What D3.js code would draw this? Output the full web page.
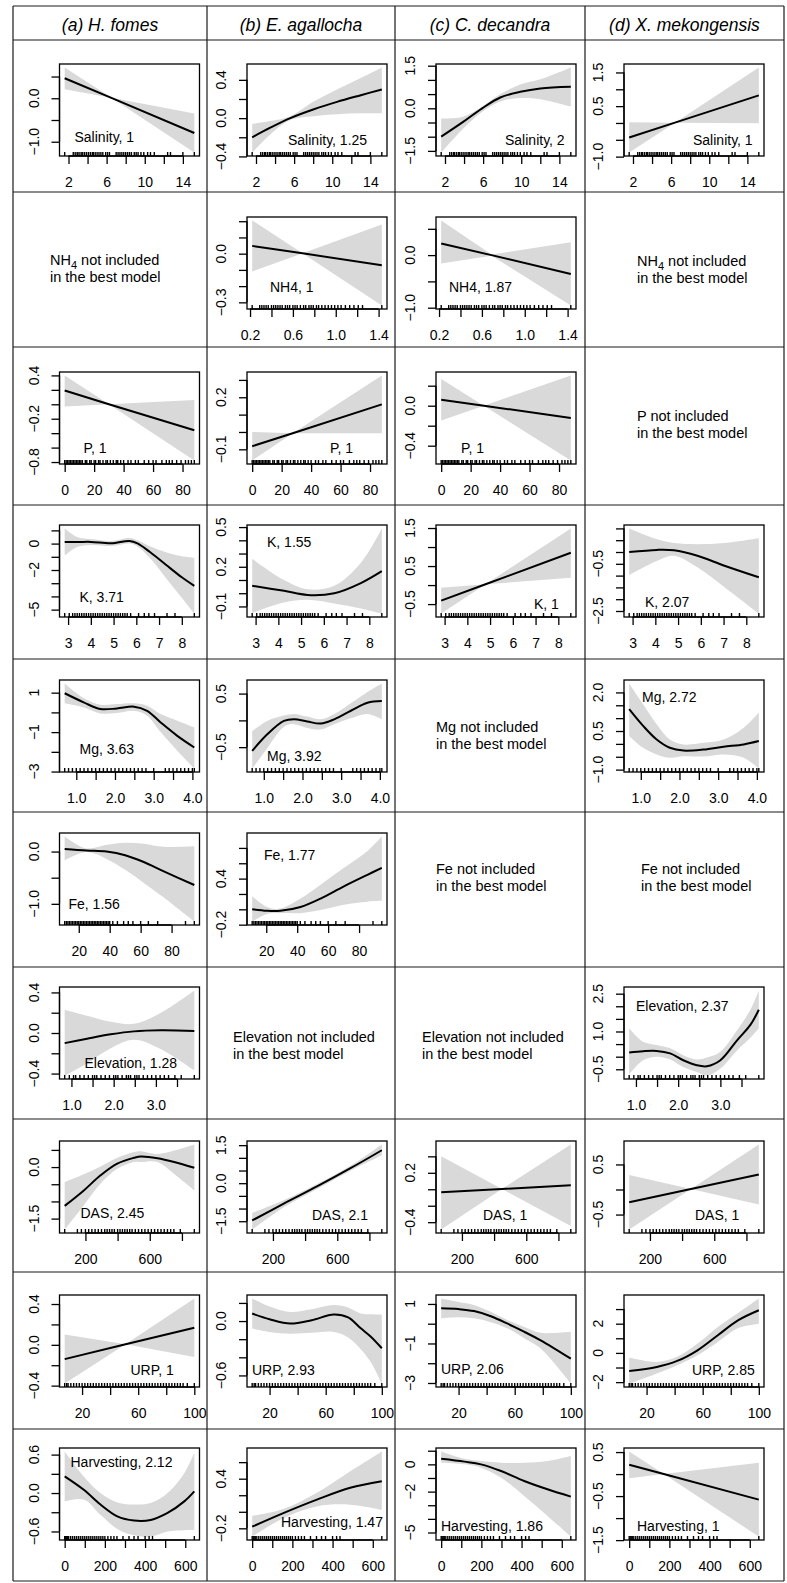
<!DOCTYPE html>
<html>
<head>
<meta charset="utf-8">
<script src="https://cdn.jsdelivr.net/npm/d3@7"></script>
<style>
  body { margin: 0; background: #fff; }
  svg text { font-family: "Liberation Sans", Arial, Helvetica, sans-serif; fill: #000; }
</style>
</head>
<body>
<svg id="chart" width="787" height="1583"></svg>
<script>
// column headers / row variables
const species = ["(a) H. fomes", "(b) E. agallocha", "(c) C. decandra", "(d) X. mekongensis"];
const variables = ["Salinity", "NH4", "P", "K", "Mg", "Fe", "Elevation", "DAS", "URP", "Harvesting"];

// ---- Salinity ----
const salRug = [1.6, 2.5, 2.7, 2.9, 3.0, 3.2, 3.4, 3.5, 3.7, 3.9, 4.1, 4.3, 4.5, 4.6, 4.8, 5.0, 5.2, 5.4, 5.6, 5.9, 6.1, 6.3, 7.0, 7.2, 7.4, 7.6, 7.8, 8.0, 8.2, 8.4, 8.6, 8.9, 9.1, 9.3, 9.6, 9.9, 10.3, 10.6, 11.0, 12.4, 12.7, 14.0, 15.2];
const salTicks = [2, 4, 6, 8, 10, 12, 14];
const salTickLabels = [2, 6, 10, 14];
const salA_x = [1.6, 6.5, 15.2], salA_fit = [0.46, 0.01, -0.80], salA_hi = [0.71, 0.01, -0.35], salA_lo = [0.21, 0.01, -1.25];
const salA_yt = [-1, -0.5, 0, 0.5], salA_yl = [-1, 0];
const salB_x = [1.6, 3.5, 5.6, 8, 10.5, 13, 15.2], salB_fit = [-0.20, -0.10, 0.00, 0.09, 0.17, 0.24, 0.30];
const salB_hi = [-0.06, -0.03, 0.02, 0.17, 0.30, 0.42, 0.53], salB_lo = [-0.36, -0.17, -0.02, 0.02, 0.04, 0.05, 0.05];
const salB_yt = [-0.4, -0.2, 0, 0.2, 0.4], salB_yl = [-0.4, 0, 0.4];
const salC_x = [1.6, 3.9, 5.9, 7.8, 9.9, 12, 15.2], salC_fit = [-1.0, -0.48, 0.0, 0.38, 0.58, 0.70, 0.76];
const salC_hi = [-0.36, -0.30, 0.06, 0.50, 0.84, 1.02, 1.44], salC_lo = [-1.56, -0.72, -0.12, 0.24, 0.36, 0.32, 0.06];
const salC_yt = [-1.5, -1, -0.5, 0, 0.5, 1, 1.5], salC_yl = [-1.5, 0, 1.5];
const salD_x = [1.6, 6.4, 15.2], salD_fit = [-0.43, 0.01, 0.82], salD_hi = [0.02, 0.01, 1.65], salD_lo = [-0.88, 0.01, -0.01];
const salD_yt = [-1, -0.5, 0, 0.5, 1, 1.5], salD_yl = [-1, 0.5, 1.5];

// ---- NH4 ----
const nh4Rug = [0.22, 0.29, 0.31, 0.33, 0.35, 0.37, 0.40, 0.42, 0.44, 0.46, 0.48, 0.50, 0.53, 0.55, 0.57, 0.60, 0.62, 0.64, 0.67, 0.70, 0.72, 0.75, 0.77, 0.79, 0.82, 0.84, 0.87, 0.90, 0.93, 0.96, 0.99, 1.02, 1.05, 1.09, 1.13, 1.17, 1.21, 1.25, 1.43];
const nh4Ticks = [0.2, 0.4, 0.6, 0.8, 1.0, 1.2, 1.4];
const nh4TickLabels = [0.2, 0.6, 1.0, 1.4];
const nh4B_x = [0.22, 0.69, 1.43], nh4B_fit = [0.048, 0.002, -0.071], nh4B_hi = [0.205, 0.002, 0.18], nh4B_lo = [-0.11, 0.002, -0.32];
const nh4B_yt = [-0.3, -0.2, -0.1, 0, 0.1, 0.2], nh4B_yl = [-0.3, 0];
const nh4C_x = [0.22, 0.69, 1.43], nh4C_fit = [0.22, 0.0, -0.36], nh4C_hi = [0.66, 0.01, 0.245], nh4C_lo = [-0.16, -0.01, -0.96];
const nh4C_yt = [-1, -0.5, 0, 0.5], nh4C_yl = [-1, 0];

// ---- P ----
const pRug = [0, 1, 2, 3, 4, 5, 6, 7, 8, 9, 10, 11, 12, 14, 15, 17, 18, 20, 21, 23, 24, 26, 28, 29, 31, 33, 35, 36, 38, 40, 43, 45, 48, 50, 54, 57, 60, 62, 66, 69, 71, 73, 76, 79, 82, 84, 86, 88];
const pTicks = [0, 20, 40, 60, 80];
const pTickLabels = [0, 20, 40, 60, 80];
const pA_x = [0, 30, 88], pA_fit = [0.19, 0.0, -0.36], pA_hi = [0.40, 0.0, 0.06], pA_lo = [-0.03, 0.0, -0.78];
const pA_yt = [-0.8, -0.6, -0.4, -0.2, 0, 0.2, 0.4], pA_yl = [-0.8, -0.2, 0.4];
const pB_x = [0, 27.5, 88], pB_fit = [-0.082, -0.007, 0.159], pB_hi = [0.0, -0.007, 0.326], pB_lo = [-0.165, -0.007, -0.008];
const pB_yt = [-0.1, 0, 0.1, 0.2, 0.3], pB_yl = [-0.1, 0.2];
const pC_x = [0, 29, 88], pC_fit = [0.06, 0.0, -0.123], pC_hi = [0.267, 0.0, 0.303], pC_lo = [-0.147, 0.0, -0.549];
const pC_yt = [-0.4, -0.2, 0, 0.2], pC_yl = [-0.4, 0];

// ---- K ----
const kRug = [2.85, 3.05, 3.2, 3.3, 3.4, 3.5, 3.6, 3.7, 3.8, 3.9, 4.0, 4.1, 4.2, 4.3, 4.4, 4.5, 4.6, 4.7, 4.8, 4.9, 5.0, 5.1, 5.2, 5.3, 5.4, 5.5, 5.6, 5.75, 6.1, 6.35, 6.55, 6.8, 7.35, 7.7, 8.55];
const kTicks = [3, 4, 5, 6, 7, 8];
const kTickLabels = [3, 4, 5, 6, 7, 8];
const kA_x = [2.85, 3.4, 4.0, 4.9, 5.7, 6.05, 6.6, 7.3, 8.0, 8.55];
const kA_fit = [0.13, 0.12, 0.13, 0.02, 0.2, 0.02, -0.64, -1.6, -2.55, -3.2];
const kA_hi = [1.15, 0.5, 0.35, 0.2, 0.42, 0.25, -0.2, -0.65, -0.95, -1.07];
const kA_lo = [-0.9, -0.25, -0.1, -0.18, 0.0, -0.22, -1.1, -2.6, -4.1, -5.3];
const kA_yt = [-5, -4, -3, -2, -1, 0, 1], kA_yl = [-5, -2, 0];
const kB_x = [2.85, 4.25, 5.28, 6.46, 7.63, 8.55], kB_fit = [0.056, 0.018, -0.013, 0.0, 0.077, 0.167];
const kB_hi = [0.26, 0.10, 0.03, 0.056, 0.23, 0.49], kB_lo = [-0.149, -0.07, -0.05, -0.077, -0.115, -0.154];
const kB_yt = [-0.1, 0, 0.1, 0.2, 0.3, 0.4, 0.5], kB_yl = [-0.1, 0.2, 0.5];
const kC_x = [2.85, 4.8, 8.55], kC_fit = [-0.41, 0.02, 0.85], kC_hi = [-0.07, 0.02, 1.49], kC_lo = [-0.75, 0.02, 0.19];
const kC_yt = [-0.5, 0, 0.5, 1, 1.5], kC_yl = [-0.5, 0.5, 1.5];
const kD_x = [2.85, 4.08, 4.82, 5.85, 7.04, 8.55], kD_fit = [0.0, 0.09, 0.07, -0.16, -0.58, -1.07];
const kD_hi = [1.0, 0.54, 0.38, 0.33, 0.38, 0.58], kD_lo = [-0.98, -0.37, -0.16, -0.65, -1.49, -2.61];
const kD_yt = [-2.5, -2, -1.5, -1, -0.5, 0, 0.5, 1], kD_yl = [-2.5, -0.5];

// ---- Mg ----
const mgRug = [0.7, 0.8, 0.9, 1.0, 1.1, 1.2, 1.3, 1.4, 1.5, 1.6, 1.7, 1.8, 1.9, 2.0, 2.1, 2.2, 2.3, 2.4, 2.5, 2.6, 2.7, 2.8, 3.0, 3.3, 3.4, 3.5, 3.6, 3.7, 3.8, 3.9, 4.0, 4.05];
const mgTicks = [1, 1.5, 2, 2.5, 3, 3.5, 4];
const mgTickLabels = [1, 2, 3, 4];
const mgA_x = [0.70, 1.19, 1.62, 2.05, 2.49, 2.83, 3.18, 3.61, 4.05];
const mgA_fit = [0.97, 0.51, 0.17, 0.20, 0.29, 0.08, -0.51, -1.19, -1.78];
const mgA_hi = [1.47, 0.73, 0.39, 0.42, 0.46, 0.34, -0.08, -0.42, -0.76];
const mgA_lo = [0.46, 0.25, -0.05, -0.03, 0.08, -0.17, -1.0, -1.95, -2.85];
const mgA_yt = [-3, -2, -1, 0, 1], mgA_yl = [-3, -1, 1];
const mgB_x = [0.70, 1.09, 1.52, 1.78, 2.12, 2.47, 2.82, 3.25, 3.68, 4.05];
const mgB_fit = [-0.57, -0.26, -0.01, 0.02, -0.02, -0.06, 0.02, 0.18, 0.33, 0.36];
const mgB_hi = [-0.2, -0.01, 0.09, 0.12, 0.07, 0.02, 0.12, 0.32, 0.53, 0.69];
const mgB_lo = [-0.9, -0.52, -0.12, -0.07, -0.14, -0.17, -0.07, 0.04, 0.12, 0.02];
const mgB_yt = [-0.5, 0, 0.5], mgB_yl = [-0.5, 0.5];
const mgD_x = [0.70, 1.06, 1.41, 1.75, 2.10, 2.62, 3.14, 3.66, 4.05];
const mgD_fit = [1.35, 0.70, 0.17, -0.15, -0.26, -0.22, -0.11, -0.02, 0.11];
const mgD_hi = [2.35, 1.54, 0.76, 0.17, -0.02, 0.04, 0.17, 0.63, 1.22];
const mgD_lo = [0.30, -0.15, -0.41, -0.54, -0.48, -0.49, -0.41, -0.54, -0.96];
const mgD_yt = [-1, -0.5, 0, 0.5, 1, 1.5, 2], mgD_yl = [-1, 0.5, 2];

// ---- Fe ----
const feRug = [10.9, 12, 13, 14, 15, 16, 17, 18, 19, 20, 21, 22, 23, 24, 25, 26, 27, 28, 29, 30, 31, 32, 33, 34, 35, 36, 37, 38, 39, 40, 42, 45, 49, 52, 55, 60, 65, 71, 89, 94.7];
const feTicks = [20, 40, 60, 80];
const feTickLabels = [20, 40, 60, 80];
const feA_x = [10.9, 25, 38, 50, 62, 75, 94.7], feA_fit = [0.05, 0.02, 0.0, -0.07, -0.2, -0.38, -0.64];
const feA_hi = [0.29, 0.06, 0.13, 0.17, 0.15, 0.09, 0.10], feA_lo = [-0.17, -0.01, -0.14, -0.35, -0.6, -0.88, -1.34];
const feA_yt = [-1, -0.5, 0], feA_yl = [-1, 0];
const feB_x = [10.9, 20.4, 29.1, 42.1, 55.1, 70.2, 85.4, 94.7], feB_fit = [0.0, -0.02, -0.02, 0.03, 0.14, 0.30, 0.45, 0.54];
const feB_hi = [0.17, 0.03, 0.01, 0.14, 0.32, 0.54, 0.76, 0.95], feB_lo = [-0.16, -0.06, -0.05, -0.05, -0.01, 0.06, 0.10, 0.11];
const feB_yt = [-0.2, 0, 0.2, 0.4, 0.6, 0.8], feB_yl = [-0.2, 0.4];

// ---- Elevation ----
const elRug = [0.84, 0.95, 1.05, 1.1, 1.2, 1.3, 1.4, 1.5, 1.55, 1.6, 1.7, 1.8, 1.9, 2.0, 2.05, 2.1, 2.2, 2.3, 2.35, 2.4, 2.5, 2.55, 2.6, 2.7, 2.8, 2.9, 3.0, 3.1, 3.2, 3.3, 3.45, 3.6, 3.91];
const elTicks = [1, 1.5, 2, 2.5, 3, 3.5];
const elTickLabels = [1, 2, 3];
const elA_x = [0.84, 1.37, 1.93, 2.48, 3.12, 3.91], elA_fit = [-0.10, -0.056, -0.013, 0.016, 0.026, 0.02];
const elA_hi = [0.23, 0.17, 0.11, 0.09, 0.2, 0.42], elA_lo = [-0.42, -0.30, -0.15, -0.066, -0.16, -0.37];
const elA_yt = [-0.4, -0.2, 0, 0.2, 0.4], elA_yl = [-0.4, 0, 0.4];
const elD_x = [0.84, 1.17, 1.49, 1.81, 2.12, 2.44, 2.68, 3.0, 3.40, 3.71, 3.91];
const elD_fit = [0.17, 0.22, 0.23, 0.13, -0.14, -0.34, -0.38, -0.14, 0.66, 1.26, 1.86];
const elD_hi = [1.13, 0.59, 0.46, 0.33, 0.06, -0.11, -0.03, 0.2, 1.06, 1.86, 2.63];
const elD_lo = [-0.7, -0.14, 0.0, -0.11, -0.41, -0.61, -0.75, -0.47, 0.26, 0.75, 1.13];
const elD_yt = [-0.5, 0, 0.5, 1, 1.5, 2, 2.5], elD_yl = [-0.5, 1, 2.5];

// ---- DAS ----
const dasRug = [71, 150, 175, 200, 220, 240, 260, 280, 300, 320, 335, 350, 365, 380, 400, 415, 430, 445, 460, 475, 490, 510, 530, 550, 570, 590, 610, 630, 650, 670, 690, 710, 730, 750, 790, 877];
const dasTicks = [200, 400, 600, 800];
const dasTickLabels = [200, 600];
const dasA_x = [71, 190, 294, 398, 502, 544, 648, 752, 877];
const dasA_fit = [-1.13, -0.68, -0.24, 0.10, 0.27, 0.31, 0.26, 0.15, -0.02];
const dasA_hi = [-0.44, -0.21, 0.02, 0.27, 0.44, 0.46, 0.38, 0.48, 0.66];
const dasA_lo = [-1.82, -1.11, -0.48, -0.05, 0.15, 0.15, 0.15, -0.2, -0.68];
const dasA_yt = [-1.5, -1, -0.5, 0, 0.5], dasA_yl = [-1.5, 0];
const dasB_x = [71, 270, 477, 685, 877], dasB_fit = [-1.47, -0.80, -0.12, 0.60, 1.30];
const dasB_hi = [-1.17, -0.66, -0.02, 0.70, 1.53], dasB_lo = [-1.83, -0.94, -0.22, 0.50, 1.10];
const dasB_yt = [-1.5, -1, -0.5, 0, 0.5, 1, 1.5], dasB_yl = [-1.5, 0, 1.5];
const dasC_x = [71, 449, 877], dasC_fit = [-0.037, 0.003, 0.049], dasC_hi = [0.40, 0.003, 0.545], dasC_lo = [-0.49, 0.003, -0.447];
const dasC_yt = [-0.4, -0.2, 0, 0.2, 0.4], dasC_yl = [-0.4, 0.2];
const dasD_x = [71, 455, 877], dasD_fit = [-0.255, 0.01, 0.30], dasD_hi = [0.29, 0.01, 0.90], dasD_lo = [-0.80, 0.01, -0.30];
const dasD_yt = [-0.5, 0, 0.5], dasD_yl = [-0.5, 0.5];

// ---- URP ----
const urpRug = [7.6, 9, 10, 12, 14, 16, 18, 20, 22, 24, 26, 28, 30, 32, 34, 36, 38, 40, 42, 44, 46, 48, 50, 52, 54, 56, 58, 60, 62, 64, 66, 68, 70, 72, 74, 76, 78, 80, 82, 84, 86, 88, 90, 92, 95, 100];
const urpTicks = [20, 40, 60, 80, 100];
const urpTickLabels = [20, 60, 100];
const urpA_x = [7.6, 51, 100], urpA_fit = [-0.14, 0.005, 0.168], urpA_hi = [0.10, 0.005, 0.455], urpA_lo = [-0.38, 0.005, -0.12];
const urpA_yt = [-0.4, -0.2, 0, 0.2, 0.4], urpA_yl = [-0.4, 0, 0.4];
const urpB_x = [7.6, 20, 34.8, 50, 65.8, 76, 85, 92, 100];
const urpB_fit = [0.083, 0.02, -0.028, 0.01, 0.072, 0.04, -0.08, -0.17, -0.30];
const urpB_hi = [0.25, 0.16, 0.10, 0.13, 0.176, 0.15, 0.083, 0.075, 0.072];
const urpB_lo = [-0.083, -0.12, -0.14, -0.13, -0.12, -0.18, -0.31, -0.45, -0.69];
const urpB_yt = [-0.6, -0.4, -0.2, 0, 0.2], urpB_yl = [-0.6, 0];
const urpC_x = [7.6, 20, 31, 43, 55, 67, 78.5, 100], urpC_fit = [0.78, 0.74, 0.64, 0.38, 0.0, -0.42, -0.84, -1.77];
const urpC_hi = [1.28, 1.1, 0.95, 0.6, 0.18, -0.17, -0.46, -0.41], urpC_lo = [0.27, 0.33, 0.27, 0.08, -0.24, -0.75, -1.26, -3.03];
const urpC_yt = [-3, -2, -1, 0, 1], urpC_yl = [-3, -1, 1];
const urpD_x = [7.6, 27.3, 41.8, 56.3, 70.8, 85.4, 100], urpD_fit = [-1.23, -0.96, -0.55, 0.18, 1.21, 2.24, 2.92];
const urpD_hi = [-0.32, -0.62, -0.27, 0.64, 1.78, 2.75, 3.73], urpD_lo = [-2.1, -1.41, -0.84, -0.16, 0.75, 1.7, 2.0];
const urpD_yt = [-2, -1, 0, 1, 2, 3], urpD_yl = [-2, 0, 2];

// ---- Harvesting ----
const hvRug = [0, 5, 10, 15, 20, 30, 40, 50, 60, 70, 80, 90, 100, 110, 120, 130, 140, 150, 160, 170, 180, 190, 200, 215, 230, 245, 260, 290, 320, 345, 365, 400, 420, 437, 645];
const hvTicks = [0, 100, 200, 300, 400, 500, 600];
const hvTickLabels = [0, 200, 400, 600];
const hvA_x = [0, 95, 178, 262, 345, 428, 512, 595, 645];
const hvA_fit = [0.26, 0.05, -0.18, -0.365, -0.43, -0.42, -0.31, -0.13, 0.026];
const hvA_hi = [0.65, 0.26, 0.0, -0.146, -0.18, -0.156, 0.0, 0.31, 0.63];
const hvA_lo = [-0.13, -0.1, -0.34, -0.56, -0.66, -0.68, -0.60, -0.58, -0.58];
const hvA_yt = [-0.6, -0.3, 0, 0.3, 0.6], hvA_yl = [-0.6, 0, 0.6];
const hvB_x = [0, 155, 322, 488, 645], hvB_fit = [-0.18, -0.016, 0.147, 0.29, 0.37];
const hvB_hi = [-0.05, 0.033, 0.23, 0.49, 0.73], hvB_lo = [-0.30, -0.077, 0.065, 0.086, 0.024];
const hvB_yt = [-0.2, 0, 0.2, 0.4, 0.6], hvB_yl = [-0.2, 0.4];
const hvC_x = [0, 116, 198, 298, 413, 529, 645], hvC_fit = [0.41, 0.2, 0.0, -0.49, -1.22, -1.83, -2.37];
const hvC_hi = [0.95, 0.41, 0.24, 0.12, 0.12, 0.24, 0.61], hvC_lo = [0.12, 0.0, -0.24, -0.98, -2.32, -3.78, -5.3];
const hvC_yt = [-5, -4, -3, -2, -1, 0, 1], hvC_yl = [-5, -2, 0];
const hvD_x = [0, 172, 645], hvD_fit = [0.21, 0.0, -0.58], hvD_hi = [0.515, 0.0, 0.26], hvD_lo = [-0.095, 0.0, -1.42];
const hvD_yt = [-1.5, -1, -0.5, 0, 0.5], hvD_yl = [-1.5, -0.5, 0.5];

// ---- layout ----
const colEdges = [13, 207, 395, 585, 784];
const rowEdges = [6, 40, 192, 347, 505, 659, 812, 967, 1119, 1272, 1429, 1581];
const boxLeft = [59.5, 247, 436, 624];
const boxTop = [64, 217, 372, 525, 680, 833, 987, 1141, 1295, 1448];
const BW = 140, BH = 92;

function P(row, col, label, x, fit, hi, lo, yt, yl, rug, xt, xl, lab) {
  return {row, col, label, x, fit, hi, lo, yt, yl, rug, xt, xl, lab};
}
const panels = [
  P(0, 0, "Salinity, 1", salA_x, salA_fit, salA_hi, salA_lo, salA_yt, salA_yl, salRug, salTicks, salTickLabels, [15, 78]),
  P(0, 1, "Salinity, 1.25", salB_x, salB_fit, salB_hi, salB_lo, salB_yt, salB_yl, salRug, salTicks, salTickLabels, [41, 81]),
  P(0, 2, "Salinity, 2", salC_x, salC_fit, salC_hi, salC_lo, salC_yt, salC_yl, salRug, salTicks, salTickLabels, [69, 81]),
  P(0, 3, "Salinity, 1", salD_x, salD_fit, salD_hi, salD_lo, salD_yt, salD_yl, salRug, salTicks, salTickLabels, [69, 81]),
  P(1, 1, "NH4, 1", nh4B_x, nh4B_fit, nh4B_hi, nh4B_lo, nh4B_yt, nh4B_yl, nh4Rug, nh4Ticks, nh4TickLabels, [23, 74.5]),
  P(1, 2, "NH4, 1.87", nh4C_x, nh4C_fit, nh4C_hi, nh4C_lo, nh4C_yt, nh4C_yl, nh4Rug, nh4Ticks, nh4TickLabels, [13, 75]),
  P(2, 0, "P, 1", pA_x, pA_fit, pA_hi, pA_lo, pA_yt, pA_yl, pRug, pTicks, pTickLabels, [24, 80.5]),
  P(2, 1, "P, 1", pB_x, pB_fit, pB_hi, pB_lo, pB_yt, pB_yl, pRug, pTicks, pTickLabels, [83, 80.5]),
  P(2, 2, "P, 1", pC_x, pC_fit, pC_hi, pC_lo, pC_yt, pC_yl, pRug, pTicks, pTickLabels, [25, 80.5]),
  P(3, 0, "K, 3.71", kA_x, kA_fit, kA_hi, kA_lo, kA_yt, kA_yl, kRug, kTicks, kTickLabels, [20, 77]),
  P(3, 1, "K, 1.55", kB_x, kB_fit, kB_hi, kB_lo, kB_yt, kB_yl, kRug, kTicks, kTickLabels, [20, 21.5]),
  P(3, 2, "K, 1", kC_x, kC_fit, kC_hi, kC_lo, kC_yt, kC_yl, kRug, kTicks, kTickLabels, [98, 84]),
  P(3, 3, "K, 2.07", kD_x, kD_fit, kD_hi, kD_lo, kD_yt, kD_yl, kRug, kTicks, kTickLabels, [21, 81.5]),
  P(4, 0, "Mg, 3.63", mgA_x, mgA_fit, mgA_hi, mgA_lo, mgA_yt, mgA_yl, mgRug, mgTicks, mgTickLabels, [20, 74]),
  P(4, 1, "Mg, 3.92", mgB_x, mgB_fit, mgB_hi, mgB_lo, mgB_yt, mgB_yl, mgRug, mgTicks, mgTickLabels, [20, 81]),
  P(4, 3, "Mg, 2.72", mgD_x, mgD_fit, mgD_hi, mgD_lo, mgD_yt, mgD_yl, mgRug, mgTicks, mgTickLabels, [18, 22]),
  P(5, 0, "Fe, 1.56", feA_x, feA_fit, feA_hi, feA_lo, feA_yt, feA_yl, feRug, feTicks, feTickLabels, [9, 76]),
  P(5, 1, "Fe, 1.77", feB_x, feB_fit, feB_hi, feB_lo, feB_yt, feB_yl, feRug, feTicks, feTickLabels, [17, 27]),
  P(6, 0, "Elevation, 1.28", elA_x, elA_fit, elA_hi, elA_lo, elA_yt, elA_yl, elRug, elTicks, elTickLabels, [25, 80.5]),
  P(6, 3, "Elevation, 2.37", elD_x, elD_fit, elD_hi, elD_lo, elD_yt, elD_yl, elRug, elTicks, elTickLabels, [12, 24]),
  P(7, 0, "DAS, 2.45", dasA_x, dasA_fit, dasA_hi, dasA_lo, dasA_yt, dasA_yl, dasRug, dasTicks, dasTickLabels, [21, 76.5]),
  P(7, 1, "DAS, 2.1", dasB_x, dasB_fit, dasB_hi, dasB_lo, dasB_yt, dasB_yl, dasRug, dasTicks, dasTickLabels, [65, 79]),
  P(7, 2, "DAS, 1", dasC_x, dasC_fit, dasC_hi, dasC_lo, dasC_yt, dasC_yl, dasRug, dasTicks, dasTickLabels, [47, 79]),
  P(7, 3, "DAS, 1", dasD_x, dasD_fit, dasD_hi, dasD_lo, dasD_yt, dasD_yl, dasRug, dasTicks, dasTickLabels, [71, 79]),
  P(8, 0, "URP, 1", urpA_x, urpA_fit, urpA_hi, urpA_lo, urpA_yt, urpA_yl, urpRug, urpTicks, urpTickLabels, [71, 80]),
  P(8, 1, "URP, 2.93", urpB_x, urpB_fit, urpB_hi, urpB_lo, urpB_yt, urpB_yl, urpRug, urpTicks, urpTickLabels, [5, 80]),
  P(8, 2, "URP, 2.06", urpC_x, urpC_fit, urpC_hi, urpC_lo, urpC_yt, urpC_yl, urpRug, urpTicks, urpTickLabels, [5, 79]),
  P(8, 3, "URP, 2.85", urpD_x, urpD_fit, urpD_hi, urpD_lo, urpD_yt, urpD_yl, urpRug, urpTicks, urpTickLabels, [68, 80]),
  P(9, 0, "Harvesting, 2.12", hvA_x, hvA_fit, hvA_hi, hvA_lo, hvA_yt, hvA_yl, hvRug, hvTicks, hvTickLabels, [11, 18.5]),
  P(9, 1, "Harvesting, 1.47", hvB_x, hvB_fit, hvB_hi, hvB_lo, hvB_yt, hvB_yl, hvRug, hvTicks, hvTickLabels, [34, 79]),
  P(9, 2, "Harvesting, 1.86", hvC_x, hvC_fit, hvC_hi, hvC_lo, hvC_yt, hvC_yl, hvRug, hvTicks, hvTickLabels, [5, 82.5]),
  P(9, 3, "Harvesting, 1", hvD_x, hvD_fit, hvD_hi, hvD_lo, hvD_yt, hvD_yl, hvRug, hvTicks, hvTickLabels, [13, 82.5])
];

// cells where the variable was dropped: [row, col, dx from cell left, dy of first line from cell middle]
const notes = [
  [1, 0, 37, -4.5], [1, 3, 52, -4], [2, 3, 52, -5], [4, 2, 41, -3.5],
  [5, 2, 41, -15.5], [5, 3, 56, -15.5], [6, 1, 26, -1], [6, 2, 27, -1]
];

const svg = d3.select("#chart");
const FONT = "'Liberation Sans', Arial, Helvetica, sans-serif";

function decimals(arr) {
  return d3.max(arr, v => { const s = String(v); const i = s.indexOf("."); return i < 0 ? 0 : s.length - i - 1; });
}

// table grid
const grid = svg.append("g").attr("stroke", "#1a1a1a").attr("stroke-width", 1.2);
colEdges.forEach(x => grid.append("line").attr("x1", x).attr("x2", x).attr("y1", rowEdges[0]).attr("y2", rowEdges[rowEdges.length - 1]));
rowEdges.forEach(y => grid.append("line").attr("x1", colEdges[0]).attr("x2", colEdges[colEdges.length - 1]).attr("y1", y).attr("y2", y));

// headers
species.forEach((s, i) => {
  svg.append("text")
    .attr("x", (colEdges[i] + colEdges[i + 1]) / 2)
    .attr("y", 31)
    .attr("text-anchor", "middle")
    .attr("font-size", 17.5)
    .attr("font-style", "italic")
    .text(s);
});

panels.forEach(p => {
  const g = svg.append("g").attr("transform", `translate(${boxLeft[p.col]},${boxTop[p.row]})`);
  const x0 = p.x[0], x1 = p.x[p.x.length - 1], xr = x1 - x0;
  const xScale = d3.scaleLinear().domain([x0 - 0.04 * xr, x1 + 0.04 * xr]).range([0, BW]);
  const ymin = d3.min(p.lo), ymax = d3.max(p.hi), yr = ymax - ymin;
  const yScale = d3.scaleLinear().domain([ymin - 0.04 * yr, ymax + 0.04 * yr]).range([BH, 0]);
  const curve = p.x.length <= 3 ? d3.curveLinear : d3.curveCatmullRom.alpha(0.5);
  const pts = p.x.map((v, i) => ({x: v, fit: p.fit[i], hi: p.hi[i], lo: p.lo[i]}));

  g.append("path").datum(pts)
    .attr("d", d3.area().x(d => xScale(d.x)).y0(d => yScale(d.lo)).y1(d => yScale(d.hi)).curve(curve))
    .attr("fill", "#d9d9d9");
  g.append("path").datum(pts)
    .attr("d", d3.line().x(d => xScale(d.x)).y(d => yScale(d.fit)).curve(curve))
    .attr("fill", "none").attr("stroke", "#000").attr("stroke-width", 2);

  // rug
  g.selectAll("line.rug").data(p.rug).join("line").attr("class", "rug")
    .attr("x1", d => xScale(d)).attr("x2", d => xScale(d))
    .attr("y1", BH).attr("y2", BH - 4)
    .attr("stroke", "#000").attr("stroke-width", 1.4);

  g.append("rect").attr("width", BW).attr("height", BH)
    .attr("fill", "none").attr("stroke", "#000").attr("stroke-width", 1.3);

  // x axis
  const fx = d3.format(`.${decimals(p.xt)}f`);
  const xa = g.append("g").attr("transform", `translate(0,${BH})`)
    .call(d3.axisBottom(xScale).tickValues(p.xt).tickSize(8).tickPadding(13)
      .tickFormat(d => p.xl.includes(d) ? fx(d) : ""));
  xa.select(".domain").remove();
  xa.attr("font-size", 14).attr("font-family", FONT);
  xa.selectAll(".tick line").attr("stroke", "#000").attr("stroke-width", 1.3);
  xa.append("line").attr("x1", xScale(p.xt[0])).attr("x2", xScale(p.xt[p.xt.length - 1]))
    .attr("stroke", "#000").attr("stroke-width", 1.3);

  // y axis (labels parallel to the axis, as in R)
  const fy = d3.format(`.${decimals(p.yt)}f`);
  const ya = g.append("g")
    .call(d3.axisLeft(yScale).tickValues(p.yt).tickSize(8).tickFormat(""));
  ya.select(".domain").remove();
  ya.selectAll(".tick line").attr("stroke", "#000").attr("stroke-width", 1.3);
  ya.append("line").attr("y1", yScale(p.yt[0])).attr("y2", yScale(p.yt[p.yt.length - 1]))
    .attr("stroke", "#000").attr("stroke-width", 1.3);
  g.selectAll("text.ylab").data(p.yl).join("text").attr("class", "ylab")
    .attr("transform", d => `translate(-21,${yScale(d)}) rotate(-90)`)
    .attr("text-anchor", "middle")
    .attr("font-size", 14)
    .text(d => fy(d));

  // term label
  g.append("text").attr("x", p.lab[0]).attr("y", p.lab[1])
    .attr("font-size", 14).text(p.label);
});

notes.forEach(([row, col, dx, dy]) => {
  const v = variables[row];
  const x = colEdges[col] + dx;
  const y = (rowEdges[row + 1] + rowEdges[row + 2]) / 2 + dy;
  const t = svg.append("text").attr("x", x).attr("y", y).attr("font-size", 14.5);
  if (v === "NH4") {
    t.append("tspan").text("NH");
    t.append("tspan").attr("dy", 4).attr("font-size", 11).text("4");
    t.append("tspan").attr("dy", -4).text(" not included");
  } else {
    t.text(v + " not included");
  }
  svg.append("text").attr("x", x).attr("y", y + 17).attr("font-size", 14.5).text("in the best model");
});
</script>
</body>
</html>
